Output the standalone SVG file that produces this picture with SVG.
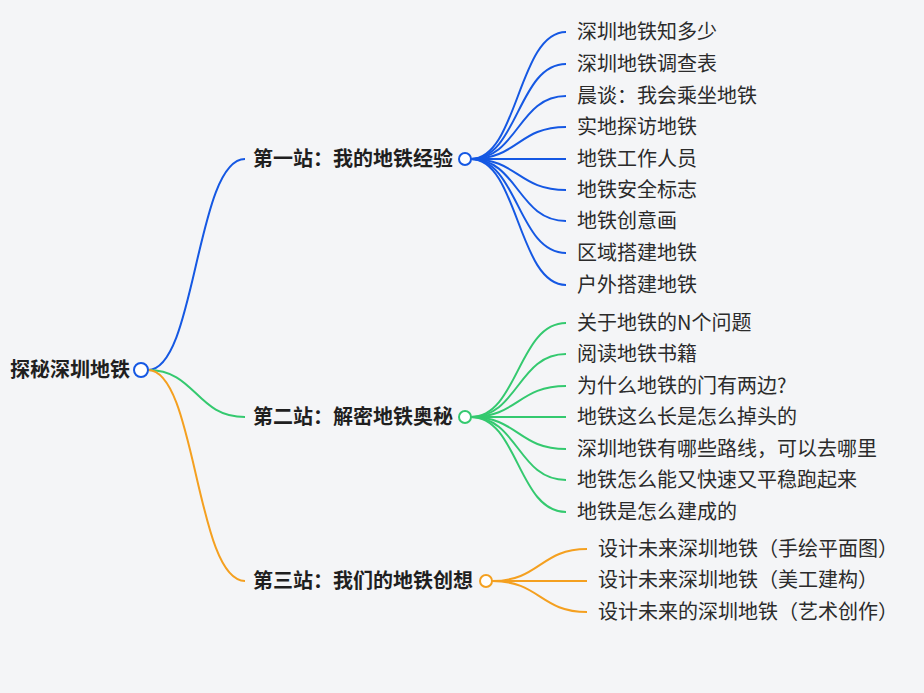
<svg xmlns="http://www.w3.org/2000/svg" width="924" height="693" viewBox="0 0 924 693">
<style>
text{font-family:"Microsoft YaHei","Noto Sans CJK SC","Noto Sans",sans-serif;font-size:20px;fill:#2b2b2b}
.b{font-weight:bold;fill:#1f1f1f}
.c{fill:none;stroke-width:2}
.bl{stroke:#1558e3}.gr{stroke:#34c96f}.or{stroke:#f4a020}
.n{fill:#fff;stroke-width:2}
</style>
<rect width="924" height="693" fill="#f4f5f7"/>
<g id="connectors">
<path class="c bl" d="M148,370 C196,370 196,159 245,159"/>
<path class="c gr" d="M148,370 C196,370 196,417 245,417"/>
<path class="c or" d="M148,370 C196,370 196,581 245,581"/>
<path class="c bl" d="M471,159 C518,159 518,32 566,32"/>
<path class="c bl" d="M471,159 C518,159 518,64 566,64"/>
<path class="c bl" d="M471,159 C518,159 518,96 566,96"/>
<path class="c bl" d="M471,159 C518,159 518,127 566,127"/>
<path class="c bl" d="M471,159 L566,159"/>
<path class="c bl" d="M471,159 C518,159 518,190 566,190"/>
<path class="c bl" d="M471,159 C518,159 518,221 566,221"/>
<path class="c bl" d="M471,159 C518,159 518,253 566,253"/>
<path class="c bl" d="M471,159 C518,159 518,285 566,285"/>
<path class="c gr" d="M471,417 C518,417 518,323 566,323"/>
<path class="c gr" d="M471,417 C518,417 518,354 566,354"/>
<path class="c gr" d="M471,417 C518,417 518,386 566,386"/>
<path class="c gr" d="M471,417 L566,417"/>
<path class="c gr" d="M471,417 C518,417 518,449 566,449"/>
<path class="c gr" d="M471,417 C518,417 518,480 566,480"/>
<path class="c gr" d="M471,417 C518,417 518,512 566,512"/>
<path class="c or" d="M492,581 C540,581 540,549 587,549"/>
<path class="c or" d="M492,581 L587,581"/>
<path class="c or" d="M492,581 C540,581 540,612 587,612"/>
</g>
<g id="root">
<text class="b" x="10" y="377">探秘深圳地铁</text>
<circle class="n bl" cx="141" cy="370" r="7"/>
</g>
<g id="branch1">
<text class="b" x="253" y="166">第一站：我的地铁经验</text>
<circle class="n bl" cx="465" cy="159" r="6"/>
</g>
<g id="branch2">
<text class="b" x="253" y="424">第二站：解密地铁奥秘</text>
<circle class="n gr" cx="465" cy="417" r="6"/>
</g>
<g id="branch3">
<text class="b" x="253" y="588">第三站：我们的地铁创想</text>
<circle class="n or" cx="486" cy="581" r="6"/>
</g>
<g id="leaf1-1"><text x="577" y="39">深圳地铁知多少</text></g>
<g id="leaf1-2"><text x="577" y="71">深圳地铁调查表</text></g>
<g id="leaf1-3"><text x="577" y="103">晨谈：我会乘坐地铁</text></g>
<g id="leaf1-4"><text x="577" y="134">实地探访地铁</text></g>
<g id="leaf1-5"><text x="577" y="166">地铁工作人员</text></g>
<g id="leaf1-6"><text x="577" y="197">地铁安全标志</text></g>
<g id="leaf1-7"><text x="577" y="228">地铁创意画</text></g>
<g id="leaf1-8"><text x="577" y="260">区域搭建地铁</text></g>
<g id="leaf1-9"><text x="577" y="292">户外搭建地铁</text></g>
<g id="leaf2-1"><text x="577" y="330">关于地铁的N个问题</text></g>
<g id="leaf2-2"><text x="577" y="361">阅读地铁书籍</text></g>
<g id="leaf2-3"><text x="577" y="393">为什么地铁的门有两边?</text></g>
<g id="leaf2-4"><text x="577" y="424">地铁这么长是怎么掉头的</text></g>
<g id="leaf2-5"><text x="577" y="456">深圳地铁有哪些路线，可以去哪里</text></g>
<g id="leaf2-6"><text x="577" y="487">地铁怎么能又快速又平稳跑起来</text></g>
<g id="leaf2-7"><text x="577" y="519">地铁是怎么建成的</text></g>
<g id="leaf3-1"><text x="598" y="556">设计未来深圳地铁（手绘平面图）</text></g>
<g id="leaf3-2"><text x="598" y="587">设计未来深圳地铁（美工建构）</text></g>
<g id="leaf3-3"><text x="598" y="619">设计未来的深圳地铁（艺术创作）</text></g>
</svg>
